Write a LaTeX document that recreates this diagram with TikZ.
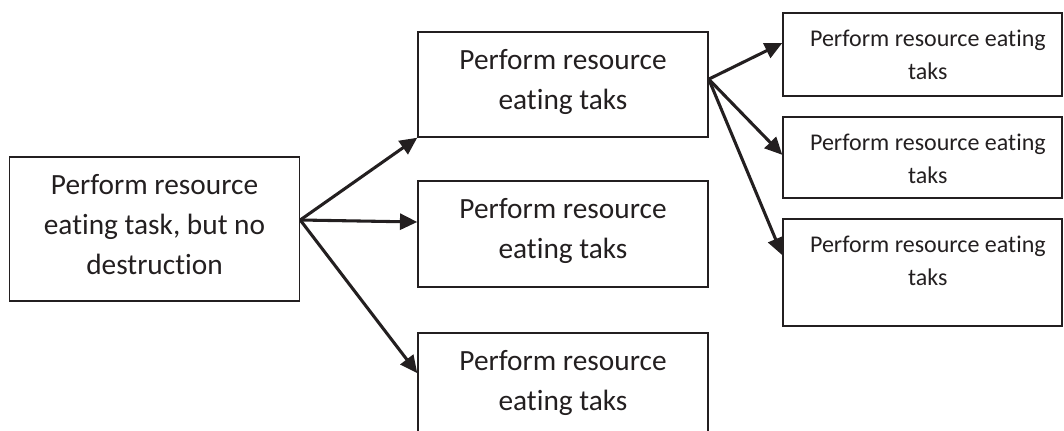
\documentclass[tikz,border=0pt]{standalone}
\usepackage{fontspec}
\setmainfont{Carlito}[Ligatures=NoCommon]
\usetikzlibrary{arrows.meta}
\definecolor{ink}{HTML}{231F20}

\begin{document}
\begin{tikzpicture}[x=0.75pt, y=-0.75pt,
    box/.style={draw=ink, line width=1.1pt, minimum width=217.5pt, inner sep=0pt},
    sbox/.style={draw=ink, line width=1.1pt, minimum width=209.25pt, inner sep=0pt},
    big/.style={align=center, anchor=base, text=ink, font=\fontsize{22}{30}\selectfont},
    small/.style={align=center, anchor=base, xshift=4pt, text=ink,
                  font=\fontsize{18}{24.75}\selectfont},
    arr/.style={draw=ink, line width=2.3pt, -{Triangle[length=13pt,width=12pt]}}
]
  \useasboundingbox (0,0) rectangle (1064,431);

  % Start task (base anchor sits on the last line)
  \node[box, minimum height=108pt] (start) at (154.5,229) {};
  \node[big] (startText) at ([yshift=-88.5pt]start.north)
    {Perform resource\\eating task, but no\\destruction};

  % Middle column
  \node[box, minimum height=78.75pt] (mid1) at (563,84.5) {};
  \node[big] (mid1Text) at ([yshift=-58.5pt]mid1.north) {Perform resource\\eating taks};

  \node[box, minimum height=79.5pt] (mid2) at (563,234) {};
  \node[big] (mid2Text) at ([yshift=-58.5pt]mid2.north) {Perform resource\\eating taks};

  \node[box, minimum height=80pt] (mid3) at (563,386.5) {};
  \node[big] (mid3Text) at ([yshift=-58.5pt]mid3.north) {Perform resource\\eating taks};

  % Right column
  \node[sbox, minimum height=62.25pt] (right1) at (922.5,54.5) {};
  \node[small] (right1Text) at ([yshift=-50.25pt]right1.north) {Perform resource eating\\taks};

  \node[sbox, minimum height=60.75pt] (right2) at (922.5,157.5) {};
  \node[small] (right2Text) at ([yshift=-50.25pt]right2.north) {Perform resource eating\\taks};

  \node[sbox, minimum height=80.25pt] (right3) at (922.5,272.5) {};
  \node[small] (right3Text) at ([yshift=-50.25pt]right3.north) {Perform resource eating\\taks};

  % Fan out from the start task
  \coordinate (fork) at ([yshift=6.75pt]start.east);
  \draw[arr] (fork) -- (mid1.south west);
  \draw[arr] (fork) -- ([yshift=9pt]mid2.west);
  \draw[arr] (fork) -- ([yshift=10pt]mid3.west);

  % Fan out from the first middle task
  \coordinate (fork2) at ([yshift=4pt]mid1.east);
  \draw[arr] (fork2) -- ([yshift=8.6pt]right1.west);
  \draw[arr] (fork2) -- ([yshift=2pt]right2.west);
  \draw[arr] (fork2) -- ([yshift=13pt]right3.west);
\end{tikzpicture}
\end{document}
